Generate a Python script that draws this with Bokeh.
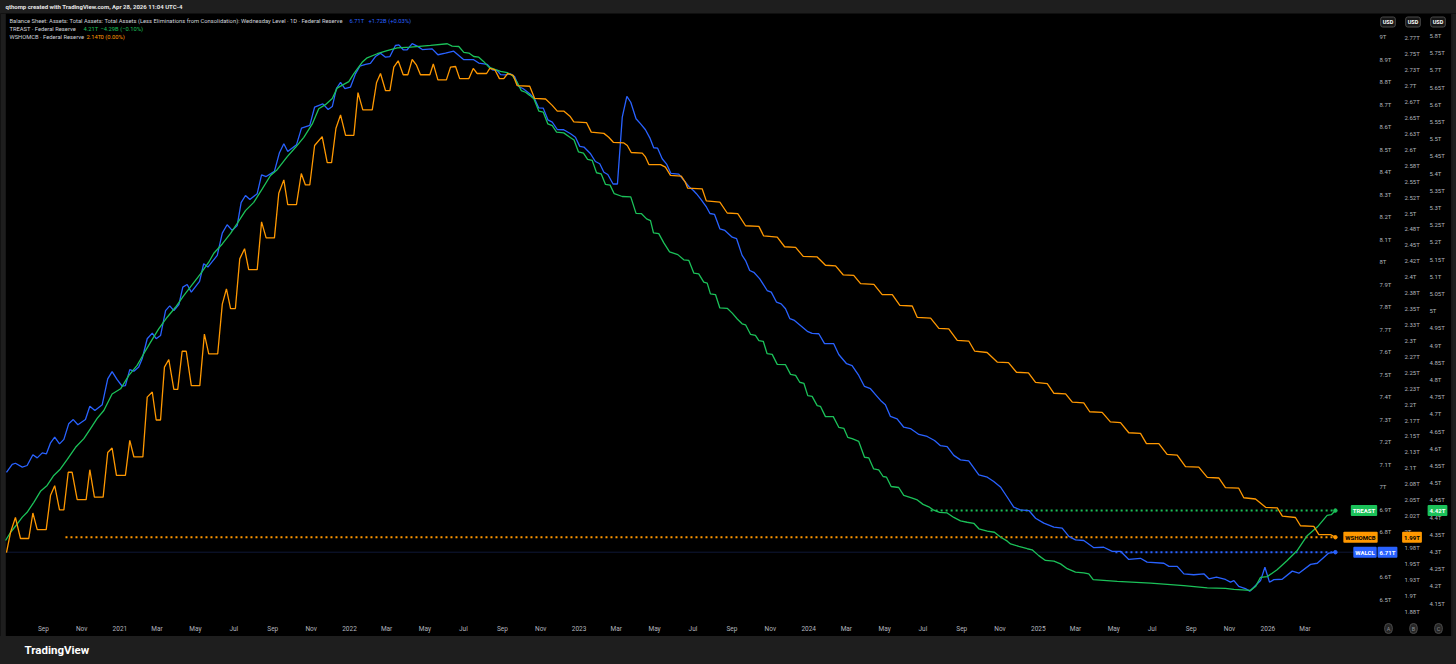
import datetime as dt
from bokeh.plotting import figure
from bokeh.models import Range1d, LinearAxis, FixedTicker, Label, BoxAnnotation
from bokeh.layouts import column
from bokeh.embed import file_html
from bokeh.resources import INLINE

# ---------------- data (decimal year, trillions USD) ----------------
walcl_points = [
    (2020.506, 7.065), (2020.531, 7.100), (2020.545, 7.105), (2020.575, 7.088), (2020.596, 7.095),
    (2020.621, 7.143), (2020.640, 7.129), (2020.662, 7.151), (2020.680, 7.147), (2020.698, 7.196),
    (2020.716, 7.221), (2020.737, 7.191), (2020.756, 7.211), (2020.777, 7.280), (2020.797, 7.299),
    (2020.817, 7.276), (2020.850, 7.299), (2020.869, 7.358), (2020.891, 7.339), (2020.923, 7.365),
    (2020.947, 7.480), (2020.966, 7.512), (2020.988, 7.476), (2021.010, 7.447), (2021.024, 7.450),
    (2021.043, 7.521), (2021.061, 7.514), (2021.082, 7.532), (2021.097, 7.569), (2021.119, 7.658),
    (2021.141, 7.683), (2021.158, 7.658), (2021.177, 7.672), (2021.199, 7.783), (2021.217, 7.804),
    (2021.235, 7.783), (2021.257, 7.810), (2021.274, 7.887), (2021.293, 7.899), (2021.311, 7.865),
    (2021.347, 7.913), (2021.365, 7.991), (2021.383, 7.976), (2021.424, 8.028), (2021.446, 8.127),
    (2021.467, 8.164), (2021.489, 8.139), (2021.511, 8.161), (2021.528, 8.262), (2021.547, 8.294),
    (2021.566, 8.276), (2021.598, 8.302), (2021.617, 8.386), (2021.637, 8.378), (2021.673, 8.401),
    (2021.695, 8.484), (2021.714, 8.524), (2021.731, 8.489), (2021.769, 8.519), (2021.791, 8.593),
    (2021.827, 8.605), (2021.848, 8.686), (2021.884, 8.701), (2021.907, 8.676), (2021.925, 8.689),
    (2021.943, 8.769), (2021.961, 8.796), (2021.980, 8.769), (2022.004, 8.775), (2022.026, 8.834),
    (2022.045, 8.868), (2022.070, 8.876), (2022.091, 8.881), (2022.113, 8.911), (2022.135, 8.926),
    (2022.157, 8.908), (2022.176, 8.911), (2022.200, 8.960), (2022.215, 8.963), (2022.234, 8.941),
    (2022.251, 8.941), (2022.273, 8.968), (2022.297, 8.956), (2022.317, 8.942), (2022.360, 8.945),
    (2022.385, 8.919), (2022.418, 8.926), (2022.454, 8.935), (2022.476, 8.916), (2022.498, 8.897),
    (2022.541, 8.897), (2022.563, 8.882), (2022.600, 8.876), (2022.622, 8.852), (2022.643, 8.849),
    (2022.658, 8.831), (2022.679, 8.830), (2022.701, 8.834), (2022.719, 8.822), (2022.737, 8.778),
    (2022.757, 8.768), (2022.785, 8.746), (2022.806, 8.723), (2022.824, 8.683), (2022.844, 8.682),
    (2022.864, 8.630), (2022.883, 8.620), (2022.905, 8.587), (2022.933, 8.586), (2022.963, 8.568),
    (2022.984, 8.553), (2023.003, 8.512), (2023.021, 8.509), (2023.050, 8.479), (2023.071, 8.445),
    (2023.090, 8.435), (2023.108, 8.397), (2023.125, 8.387), (2023.148, 8.345), (2023.167, 8.345),
    (2023.188, 8.642), (2023.208, 8.734), (2023.225, 8.708), (2023.248, 8.635), (2023.268, 8.612),
    (2023.289, 8.586), (2023.308, 8.550), (2023.325, 8.506), (2023.342, 8.504), (2023.362, 8.457),
    (2023.382, 8.432), (2023.400, 8.392), (2023.434, 8.389), (2023.459, 8.358), (2023.478, 8.334),
    (2023.498, 8.316), (2023.511, 8.302), (2023.529, 8.279), (2023.555, 8.242), (2023.570, 8.214),
    (2023.590, 8.210), (2023.613, 8.146), (2023.635, 8.139), (2023.667, 8.109), (2023.686, 8.102),
    (2023.710, 8.028), (2023.725, 8.005), (2023.743, 7.961), (2023.761, 7.953), (2023.787, 7.924),
    (2023.819, 7.872), (2023.837, 7.865), (2023.860, 7.820), (2023.880, 7.813), (2023.899, 7.791),
    (2023.918, 7.747), (2023.938, 7.739), (2023.964, 7.717), (2023.994, 7.691), (2024.015, 7.682),
    (2024.044, 7.680), (2024.069, 7.636), (2024.109, 7.636), (2024.131, 7.588), (2024.165, 7.547),
    (2024.189, 7.539), (2024.218, 7.495), (2024.243, 7.446), (2024.269, 7.436), (2024.291, 7.410),
    (2024.313, 7.384), (2024.334, 7.365), (2024.356, 7.313), (2024.385, 7.302), (2024.414, 7.265),
    (2024.443, 7.259), (2024.480, 7.233), (2024.516, 7.224), (2024.548, 7.206), (2024.574, 7.183),
    (2024.603, 7.179), (2024.632, 7.140), (2024.661, 7.120), (2024.697, 7.116), (2024.741, 7.053),
    (2024.778, 7.043), (2024.806, 7.024), (2024.835, 7.000), (2024.865, 6.954), (2024.893, 6.910),
    (2024.922, 6.898), (2024.959, 6.895), (2024.988, 6.861), (2025.024, 6.839), (2025.068, 6.821),
    (2025.104, 6.817), (2025.133, 6.780), (2025.162, 6.765), (2025.198, 6.762), (2025.242, 6.730),
    (2025.285, 6.732), (2025.322, 6.714), (2025.358, 6.714), (2025.394, 6.678), (2025.445, 6.683),
    (2025.474, 6.666), (2025.547, 6.661), (2025.569, 6.647), (2025.605, 6.647), (2025.634, 6.614),
    (2025.677, 6.610), (2025.721, 6.614), (2025.743, 6.592), (2025.776, 6.599), (2025.815, 6.589),
    (2025.837, 6.577), (2025.852, 6.584), (2025.873, 6.558), (2025.902, 6.548), (2025.921, 6.537),
    (2025.968, 6.584), (2025.987, 6.643), (2026.007, 6.577), (2026.026, 6.588), (2026.062, 6.590),
    (2026.106, 6.626), (2026.135, 6.617), (2026.186, 6.656), (2026.215, 6.661), (2026.265, 6.706),
    (2026.294, 6.710),
]

treast_t = [
    2020.502, 2020.524, 2020.553, 2020.575, 2020.596, 2020.625, 2020.654, 2020.683, 2020.712, 2020.741,
    2020.770, 2020.807, 2020.843, 2020.872, 2020.901, 2020.930, 2020.966, 2021.003, 2021.039, 2021.075,
    2021.104, 2021.133, 2021.169, 2021.206, 2021.242, 2021.278, 2021.315, 2021.351, 2021.387, 2021.409,
    2021.446, 2021.482, 2021.511, 2021.547, 2021.583, 2021.620, 2021.656, 2021.685, 2021.729, 2021.765,
    2021.801, 2021.838, 2021.866, 2021.895, 2021.925, 2021.946, 2021.975, 2021.997, 2022.019, 2022.055,
    2022.077, 2022.121, 2022.164, 2022.208, 2022.266, 2022.353, 2022.426, 2022.447, 2022.476, 2022.498,
    2022.520, 2022.541, 2022.563, 2022.585, 2022.607, 2022.636, 2022.658, 2022.687, 2022.709, 2022.730,
    2022.748, 2022.767, 2022.785, 2022.803, 2022.825, 2022.844, 2022.864, 2022.883, 2022.902, 2022.933,
    2022.963, 2022.978, 2022.997, 2023.019, 2023.037, 2023.057, 2023.076, 2023.096, 2023.115, 2023.135,
    2023.153, 2023.188, 2023.225, 2023.248, 2023.272, 2023.294, 2023.311, 2023.324, 2023.347, 2023.369,
    2023.394, 2023.430, 2023.456, 2023.478, 2023.500, 2023.521, 2023.543, 2023.558, 2023.572, 2023.594,
    2023.613, 2023.645, 2023.667, 2023.689, 2023.710, 2023.725, 2023.747, 2023.768, 2023.783, 2023.802,
    2023.819, 2023.841, 2023.863, 2023.899, 2023.921, 2023.943, 2023.961, 2023.979, 2023.996, 2024.015,
    2024.037, 2024.051, 2024.073, 2024.107, 2024.131, 2024.153, 2024.170, 2024.189, 2024.218, 2024.243,
    2024.262, 2024.283, 2024.305, 2024.324, 2024.339, 2024.359, 2024.392, 2024.414, 2024.448, 2024.473,
    2024.498, 2024.523, 2024.545, 2024.570, 2024.603, 2024.632, 2024.661, 2024.690, 2024.719, 2024.741,
    2024.778, 2024.809, 2024.835, 2024.865, 2024.879, 2024.915, 2024.952, 2024.973, 2025.002, 2025.031,
    2025.068, 2025.097, 2025.126, 2025.162, 2025.198, 2025.220, 2025.239, 2025.344, 2025.489, 2025.634,
    2025.736, 2025.815, 2025.852, 2025.924, 2025.946, 2025.968, 2025.997, 2026.040, 2026.084, 2026.128,
    2026.171, 2026.215, 2026.258, 2026.276, 2026.294,
]
treast = [
    4.332, 4.356, 4.380, 4.400, 4.414, 4.443, 4.475, 4.492, 4.521, 4.540,
    4.567, 4.603, 4.628, 4.657, 4.687, 4.710, 4.758, 4.773, 4.812, 4.841,
    4.875, 4.908, 4.947, 4.981, 5.010, 5.044, 5.076, 5.107, 5.141, 5.167,
    5.194, 5.225, 5.254, 5.291, 5.315, 5.354, 5.393, 5.410, 5.448, 5.475,
    5.504, 5.543, 5.587, 5.599, 5.617, 5.647, 5.658, 5.666, 5.689, 5.722,
    5.735, 5.747, 5.756, 5.764, 5.766, 5.771, 5.776, 5.769, 5.768, 5.751,
    5.749, 5.739, 5.737, 5.724, 5.708, 5.701, 5.696, 5.692, 5.684, 5.664,
    5.640, 5.635, 5.626, 5.616, 5.580, 5.577, 5.543, 5.538, 5.519, 5.517,
    5.503, 5.496, 5.462, 5.458, 5.440, 5.437, 5.401, 5.398, 5.367, 5.365,
    5.340, 5.332, 5.331, 5.283, 5.282, 5.267, 5.262, 5.226, 5.224, 5.197,
    5.171, 5.163, 5.148, 5.146, 5.109, 5.107, 5.083, 5.080, 5.049, 5.047,
    5.008, 5.007, 4.993, 4.976, 4.962, 4.959, 4.931, 4.928, 4.913, 4.911,
    4.875, 4.873, 4.844, 4.843, 4.815, 4.812, 4.792, 4.789, 4.753, 4.751,
    4.724, 4.722, 4.692, 4.692, 4.661, 4.658, 4.632, 4.628, 4.620, 4.574,
    4.572, 4.540, 4.537, 4.518, 4.516, 4.489, 4.486, 4.463, 4.456, 4.450,
    4.437, 4.430, 4.420, 4.414, 4.412, 4.399, 4.389, 4.385, 4.382, 4.366,
    4.359, 4.356, 4.342, 4.330, 4.322, 4.315, 4.308, 4.305, 4.288, 4.274,
    4.272, 4.264, 4.250, 4.240, 4.238, 4.235, 4.218, 4.213, 4.208, 4.201,
    4.194, 4.193, 4.190, 4.187, 4.198, 4.225, 4.227, 4.247, 4.274, 4.303,
    4.346, 4.371, 4.405, 4.407, 4.419,
]

wshomcb_points = [
    (2020.506, 1.967), (2020.524, 1.999), (2020.545, 2.022), (2020.567, 1.989), (2020.603, 1.989),
    (2020.621, 2.029), (2020.640, 2.003), (2020.679, 2.003), (2020.698, 2.057), (2020.716, 2.072),
    (2020.737, 2.034), (2020.756, 2.034), (2020.775, 2.093), (2020.792, 2.093), (2020.814, 2.050),
    (2020.853, 2.050), (2020.869, 2.097), (2020.889, 2.054), (2020.927, 2.054), (2020.947, 2.124),
    (2020.966, 2.131), (2020.985, 2.088), (2021.024, 2.088), (2021.043, 2.143), (2021.061, 2.117),
    (2021.100, 2.117), (2021.119, 2.211), (2021.141, 2.219), (2021.158, 2.175), (2021.177, 2.175),
    (2021.194, 2.258), (2021.213, 2.270), (2021.235, 2.223), (2021.252, 2.223), (2021.271, 2.283),
    (2021.289, 2.283), (2021.311, 2.229), (2021.348, 2.229), (2021.368, 2.310), (2021.387, 2.279),
    (2021.426, 2.279), (2021.446, 2.357), (2021.464, 2.381), (2021.482, 2.350), (2021.503, 2.350),
    (2021.522, 2.428), (2021.543, 2.444), (2021.561, 2.411), (2021.598, 2.411), (2021.617, 2.486),
    (2021.637, 2.461), (2021.673, 2.461), (2021.692, 2.531), (2021.714, 2.552), (2021.731, 2.513),
    (2021.769, 2.513), (2021.790, 2.562), (2021.808, 2.544), (2021.827, 2.544), (2021.848, 2.606),
    (2021.881, 2.620), (2021.903, 2.579), (2021.922, 2.579), (2021.941, 2.633), (2021.961, 2.654),
    (2021.983, 2.622), (2022.019, 2.622), (2022.037, 2.689), (2022.058, 2.662), (2022.099, 2.662),
    (2022.118, 2.705), (2022.135, 2.719), (2022.157, 2.692), (2022.176, 2.692), (2022.193, 2.729),
    (2022.212, 2.739), (2022.234, 2.717), (2022.254, 2.717), (2022.273, 2.741), (2022.292, 2.732),
    (2022.309, 2.717), (2022.350, 2.717), (2022.365, 2.734), (2022.385, 2.709), (2022.422, 2.709),
    (2022.440, 2.729), (2022.462, 2.730), (2022.480, 2.711), (2022.520, 2.711), (2022.539, 2.727),
    (2022.556, 2.719), (2022.597, 2.719), (2022.611, 2.727), (2022.633, 2.725), (2022.653, 2.711),
    (2022.672, 2.711), (2022.689, 2.719), (2022.713, 2.716), (2022.730, 2.700), (2022.785, 2.699),
    (2022.806, 2.680), (2022.854, 2.679), (2022.883, 2.669), (2022.905, 2.660), (2022.933, 2.660),
    (2022.960, 2.652), (2022.977, 2.643), (2023.032, 2.642), (2023.053, 2.627), (2023.108, 2.625),
    (2023.129, 2.619), (2023.149, 2.611), (2023.195, 2.610), (2023.210, 2.606), (2023.227, 2.595),
    (2023.275, 2.594), (2023.289, 2.588), (2023.304, 2.576), (2023.355, 2.576), (2023.376, 2.572),
    (2023.398, 2.559), (2023.445, 2.558), (2023.463, 2.548), (2023.473, 2.539), (2023.536, 2.538),
    (2023.554, 2.519), (2023.613, 2.517), (2023.645, 2.500), (2023.691, 2.499), (2023.725, 2.480),
    (2023.783, 2.479), (2023.804, 2.464), (2023.863, 2.462), (2023.895, 2.447), (2023.943, 2.446),
    (2023.976, 2.432), (2024.037, 2.431), (2024.073, 2.418), (2024.117, 2.417), (2024.150, 2.403),
    (2024.196, 2.402), (2024.226, 2.389), (2024.284, 2.388), (2024.320, 2.372), (2024.364, 2.372),
    (2024.397, 2.355), (2024.451, 2.354), (2024.473, 2.336), (2024.531, 2.335), (2024.567, 2.319),
    (2024.610, 2.318), (2024.647, 2.300), (2024.697, 2.299), (2024.723, 2.283), (2024.777, 2.281),
    (2024.821, 2.266), (2024.870, 2.265), (2024.905, 2.250), (2024.957, 2.249), (2024.988, 2.234),
    (2025.039, 2.232), (2025.068, 2.217), (2025.119, 2.216), (2025.148, 2.203), (2025.198, 2.202),
    (2025.224, 2.188), (2025.278, 2.187), (2025.314, 2.172), (2025.358, 2.171), (2025.394, 2.155),
    (2025.445, 2.154), (2025.471, 2.138), (2025.525, 2.138), (2025.561, 2.121), (2025.605, 2.120),
    (2025.641, 2.102), (2025.699, 2.101), (2025.736, 2.085), (2025.786, 2.084), (2025.815, 2.069),
    (2025.873, 2.068), (2025.895, 2.053), (2025.946, 2.051), (2025.990, 2.038), (2026.041, 2.037),
    (2026.063, 2.024), (2026.120, 2.022), (2026.142, 2.009), (2026.200, 2.008), (2026.222, 1.995),
    (2026.273, 1.995), (2026.294, 1.991),
]

# where the dotted last-value lines begin (decimal year)
walcl_line_start = 2025.336
treast_line_start = 2024.531
wshomcb_line_start = 2020.763

# time-axis ticks
time_tick_dates = [
    "2020-09-01", "2020-11-01", "2021-01-01", "2021-03-01", "2021-05-01", "2021-07-01",
    "2021-09-01", "2021-11-01", "2022-01-01", "2022-03-01", "2022-05-01", "2022-07-01",
    "2022-09-01", "2022-11-01", "2023-01-01", "2023-03-01", "2023-05-01", "2023-07-01",
    "2023-09-01", "2023-11-01", "2024-01-01", "2024-03-01", "2024-05-01", "2024-07-01",
    "2024-09-01", "2024-11-01", "2025-01-01", "2025-03-01", "2025-05-01", "2025-07-01",
    "2025-09-01", "2025-11-01", "2026-01-01", "2026-03-01",
]
time_tick_labels = [
    "Sep", "Nov", "2021", "Mar", "May", "Jul", "Sep", "Nov", "2022", "Mar", "May", "Jul",
    "Sep", "Nov", "2023", "Mar", "May", "Jul", "Sep", "Nov", "2024", "Mar", "May", "Jul",
    "Sep", "Nov", "2025", "Mar", "May", "Jul", "Sep", "Nov", "2026", "Mar",
]

# price-scale ticks
walcl_ticks = [6.5, 6.6, 6.7, 6.8, 6.9, 7.0, 7.1, 7.2, 7.3, 7.4, 7.5, 7.6, 7.7, 7.8, 7.9,
               8.0, 8.1, 8.2, 8.3, 8.4, 8.5, 8.6, 8.7, 8.8, 8.9, 9.0]
walcl_tick_labels = ["6.5T", "6.6T", "6.7T", "6.8T", "6.9T", "7T", "7.1T", "7.2T", "7.3T", "7.4T",
                     "7.5T", "7.6T", "7.7T", "7.8T", "7.9T", "8T", "8.1T", "8.2T", "8.3T", "8.4T",
                     "8.5T", "8.6T", "8.7T", "8.8T", "8.9T", "9T"]
wshomcb_ticks = [1.875, 1.9, 1.925, 1.95, 1.975, 2.0, 2.025, 2.05, 2.075, 2.1, 2.125, 2.15, 2.175,
                 2.2, 2.225, 2.25, 2.275, 2.3, 2.325, 2.35, 2.375, 2.4, 2.425, 2.45, 2.475, 2.5,
                 2.525, 2.55, 2.575, 2.6, 2.625, 2.65, 2.675, 2.7, 2.725, 2.75, 2.775]
wshomcb_tick_labels = ["1.88T", "1.9T", "1.93T", "1.95T", "1.98T", "2T", "2.02T", "2.05T", "2.08T",
                       "2.1T", "2.13T", "2.15T", "2.17T", "2.2T", "2.23T", "2.25T", "2.27T", "2.3T",
                       "2.33T", "2.35T", "2.38T", "2.4T", "2.42T", "2.45T", "2.48T", "2.5T", "2.52T",
                       "2.55T", "2.58T", "2.6T", "2.63T", "2.65T", "2.67T", "2.7T", "2.73T", "2.75T",
                       "2.77T"]
treast_ticks = [4.15, 4.2, 4.25, 4.3, 4.35, 4.4, 4.45, 4.5, 4.55, 4.6, 4.65, 4.7, 4.75, 4.8, 4.85,
                4.9, 4.95, 5.0, 5.05, 5.1, 5.15, 5.2, 5.25, 5.3, 5.35, 5.4, 5.45, 5.5, 5.55, 5.6,
                5.65, 5.7, 5.75, 5.8]
treast_tick_labels = ["4.15T", "4.2T", "4.25T", "4.3T", "4.35T", "4.4T", "4.45T", "4.5T", "4.55T",
                      "4.6T", "4.65T", "4.7T", "4.75T", "4.8T", "4.85T", "4.9T", "4.95T", "5T",
                      "5.05T", "5.1T", "5.15T", "5.2T", "5.25T", "5.3T", "5.35T", "5.4T", "5.45T",
                      "5.5T", "5.55T", "5.6T", "5.65T", "5.7T", "5.75T", "5.8T"]

# ---------------- styling / layout ----------------
W = 1456
FONT = "Roboto"
FRAME_GRAY = "#1e1e1e"
EDGE_GRAY = "#2e2e2e"
BLUE = "#2962FF"
GREEN = "#1BC159"
ORANGE = "#FF9800"
TXT = "#d1d4dc"
AXIS_TXT = "#b2b5be"

TOP_H = 13          # grey strip
MAIN_H = 623        # chart pane + time scale
FOOT_H = 28         # grey footer
X0, X1 = 2020.47997, 2026.82143      # frame spans the full width
YA = (6.33570, 9.10213)
YB = (1.83516, 2.81319)
YC = (4.05291, 5.86395)


def page_x_to_t(px):
    return X0 + px * (X1 - X0) / W


def page_y_to_a(py):
    return YA[1] - (py - TOP_H) * (YA[1] - YA[0]) / MAIN_H


def dec_year(s):
    d = dt.date.fromisoformat(s)
    start = dt.date(d.year, 1, 1)
    n = (dt.date(d.year + 1, 1, 1) - start).days
    return round(d.year + (d - start).days / n, 6)


walcl_t = [p[0] for p in walcl_points]
walcl = [p[1] for p in walcl_points]
wshomcb_t = [p[0] for p in wshomcb_points]
wshomcb = [p[1] for p in wshomcb_points]

main = figure(width=W, height=MAIN_H, output_backend="svg", toolbar_location=None,
              x_range=Range1d(X0, X1), y_range=Range1d(*YA),
              y_axis_location=None, title=None, min_border=0,
              background_fill_color="#000000", border_fill_color="#000000",
              outline_line_color=None)
main.extra_y_ranges = {"B": Range1d(*YB), "C": Range1d(*YC), "py": Range1d(MAIN_H, 0)}
main.extra_x_ranges = {"px": Range1d(0, W)}
main.grid.grid_line_color = None

# widget side edges (grey frame of the snapshot)
main.add_layout(BoxAnnotation(left=0, right=4, x_range_name="px", fill_color=FRAME_GRAY,
                              fill_alpha=1, line_color=None, level="underlay"))
main.add_layout(BoxAnnotation(left=4, right=5, x_range_name="px", fill_color=EDGE_GRAY,
                              fill_alpha=1, line_color=None, level="underlay"))
main.add_layout(BoxAnnotation(left=1451, right=1452, x_range_name="px", fill_color=EDGE_GRAY,
                              fill_alpha=1, line_color=None, level="underlay"))
main.add_layout(BoxAnnotation(left=1452, right=W, x_range_name="px", fill_color=FRAME_GRAY,
                              fill_alpha=1, line_color=None, level="underlay"))

# time scale (drawn along the bottom of the pane)
tick_vals = [dec_year(d) for d in time_tick_dates]
xa = main.xaxis[0]
xa.fixed_location = page_y_to_a(620)
xa.ticker = FixedTicker(ticks=tick_vals)
xa.major_label_overrides = {v: lab for v, lab in zip(tick_vals, time_tick_labels)}
xa.axis_line_color = None
xa.major_tick_line_color = None
xa.minor_tick_line_color = None
xa.major_tick_out = 0
xa.major_label_text_color = AXIS_TXT
xa.major_label_text_font = FONT
xa.major_label_text_font_size = "6.5px"
xa.major_label_standoff = 4


def price_axis(range_name, ticks, labels, page_x):
    ax = LinearAxis(y_range_name=range_name, ticker=FixedTicker(ticks=ticks),
                    major_label_overrides={t: l for t, l in zip(ticks, labels)},
                    fixed_location=page_x_to_t(page_x),
                    axis_line_color=None, major_tick_line_color=None,
                    minor_tick_line_color=None, major_tick_out=0, major_tick_in=0,
                    major_label_text_color=AXIS_TXT, major_label_text_font=FONT,
                    major_label_text_font_size="6px", major_label_standoff=7)
    main.add_layout(ax, "right")


price_axis("default", walcl_ticks, walcl_tick_labels, 1372)
price_axis("B", wshomcb_ticks, wshomcb_tick_labels, 1397)
price_axis("C", treast_ticks, treast_tick_labels, 1422)

# last-value price lines
main.line([page_x_to_t(5), page_x_to_t(1372)], [walcl[-1], walcl[-1]],
          line_color="#0f1836", line_width=1)
main.line([treast_line_start, treast_t[-1]], [treast[-1], treast[-1]], y_range_name="C",
          line_color=GREEN, line_width=2, line_dash="2 3")
main.line([wshomcb_line_start, wshomcb_t[-1]], [wshomcb[-1], wshomcb[-1]], y_range_name="B",
          line_color=ORANGE, line_width=2, line_dash="2 3")
main.line([walcl_line_start, walcl_t[-1]], [walcl[-1], walcl[-1]],
          line_color=BLUE, line_width=2, line_dash="2 3")

# series
main.line(walcl_t, walcl, line_color=BLUE, line_width=1.3)
main.line(treast_t, treast, y_range_name="C", line_color=GREEN, line_width=1.3)
main.line(wshomcb_t, wshomcb, y_range_name="B", line_color=ORANGE, line_width=1.3)
main.scatter([walcl_t[-1]], [walcl[-1]], size=3.5, color=BLUE)
main.scatter([wshomcb_t[-1]], [wshomcb[-1]], y_range_name="B", size=3.5, color=ORANGE)
main.scatter([treast_t[-1]], [treast[-1]], y_range_name="C", size=3.5, color=GREEN)


def px_label(text, page_x, page_y, color=TXT, size="5.8px", align="left", style="normal", **kw):
    main.add_layout(Label(x=page_x, y=page_y - TOP_H, x_range_name="px", y_range_name="py",
                          text=text, text_color=color, text_font=FONT, text_font_size=size,
                          text_align=align, text_baseline="middle", text_font_style=style, **kw))


def tag(text, page_x, y_value, range_name, bg, fg):
    main.add_layout(Label(x=page_x, y=y_value, x_range_name="px", y_range_name=range_name,
                          text=text, text_color=fg, text_font=FONT, text_font_size="6px",
                          text_font_style="bold", text_align="center", text_baseline="middle",
                          background_fill_color=bg, padding=2, border_radius=1))


# legend
px_label("Balance Sheet: Assets: Total Assets: Total Assets (Less Eliminations from Consolidation): "
         "Wednesday Level · 1D · Federal Reserve", 9, 20.5)
px_label("6.71T", 349, 20.5, color=BLUE)
px_label("+1.72B (+0.03%)", 368, 20.5, color=BLUE)
px_label("TREAST · Federal Reserve", 9, 28.3)
px_label("4.21T", 83, 28.3, color=GREEN)
px_label("−4.29B (−0.10%)", 100, 28.3, color=GREEN)
px_label("WSHOMCB · Federal Reserve", 9, 36)
px_label("2.14T", 86, 36, color=ORANGE)
px_label("0 (0.00%)", 100, 36, color=ORANGE)

# price tags
tag("TREAST", 1363.5, treast[-1], "C", GREEN, "#ffffff")
tag("4.42T", 1437, treast[-1], "C", GREEN, "#ffffff")
tag("WSHOMCB", 1360, wshomcb[-1], "B", ORANGE, "#000000")
tag("1.99T", 1411.5, wshomcb[-1], "B", ORANGE, "#000000")
tag("WALCL", 1364.5, walcl[-1], "default", BLUE, "#ffffff")
tag("6.71T", 1387, walcl[-1], "default", BLUE, "#ffffff")

# USD buttons and scale letters
for cx in (1387.5, 1412.5, 1437.5):
    px_label("USD", cx, 21.5, color="#ffffff", size="5.5px", align="center", style="bold",
             background_fill_color="#161616", border_line_color="#4a4a4a", padding=2,
             border_radius=2)
for cx, letter in ((1388, "A"), (1413, "B"), (1438, "C")):
    px_label(letter, cx, 628, color="#8a8d94", size="5.5px", align="center",
             background_fill_color="#262626", border_line_color="#4a4a4a", padding=2,
             border_radius=5)

# top strip
top = figure(width=W, height=TOP_H, output_backend="svg", toolbar_location=None, title=None,
             x_range=Range1d(0, W), y_range=Range1d(TOP_H, 0), x_axis_location=None,
             y_axis_location=None, min_border=0, background_fill_color=FRAME_GRAY,
             border_fill_color=FRAME_GRAY, outline_line_color=None)
top.grid.grid_line_color = None
top.add_layout(Label(x=5, y=5.5, text="qthomp created with TradingView.com, Apr 28, 2026 11:04 UTC-4",
                     text_color="#e6e6e6", text_font=FONT, text_font_size="6px",
                     text_font_style="bold", text_baseline="middle"))

# footer
bottom = figure(width=W, height=FOOT_H, output_backend="svg", toolbar_location=None, title=None,
                x_range=Range1d(0, W), y_range=Range1d(FOOT_H, 0), x_axis_location=None,
                y_axis_location=None, min_border=0, background_fill_color=FRAME_GRAY,
                border_fill_color=FRAME_GRAY, outline_line_color=None)
bottom.grid.grid_line_color = None
bottom.add_layout(Label(x=24, y=13.5, text="TradingView", text_color="#ffffff", text_font=FONT,
                        text_font_size="11.5px", text_font_style="bold", text_baseline="middle"))

layout = column(top, main, bottom, spacing=0)
try:
    from bokeh.models import GlobalInlineStyleSheet
    layout.stylesheets = [GlobalInlineStyleSheet(css="body{background-color:#1e1e1e;}")]
except Exception:
    pass

open("out.html", "w").write(file_html(layout, INLINE))
